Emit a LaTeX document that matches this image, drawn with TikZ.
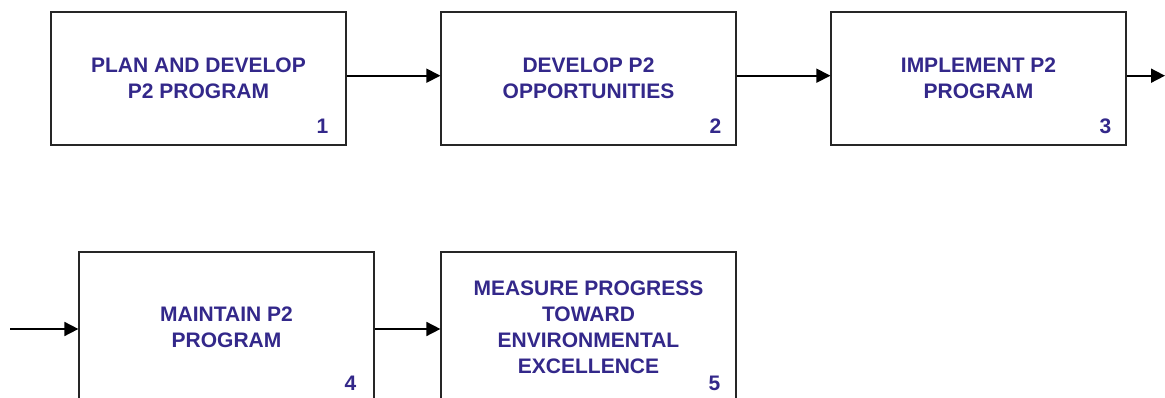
\documentclass[tikz,border=0pt]{standalone}
\usepackage{fontspec}
\setmainfont{Liberation Sans}
\usetikzlibrary{arrows.meta,positioning}
\definecolor{ptwotext}{HTML}{33288A}
\definecolor{ptwoline}{HTML}{262626}

\begin{document}
\begin{tikzpicture}[
  x=1pt, y=1pt,
  font=\fontsize{21}{26}\selectfont\bfseries,
  node distance=93.8pt,
  box/.style={rectangle, draw=ptwoline, line width=1.2pt, fill=white,
    minimum width=295pt, minimum height=133pt, align=center,
    text=ptwotext, inner sep=0pt},
  tall/.style={box, minimum height=150pt},
  num/.style={anchor=base east, text=ptwotext, inner sep=0pt},
  arr/.style={-{Triangle[length=14pt, width=14pt]}, line width=1.7pt, black},
]
  \clip (0,0) rectangle (1165,398);

  \node[box] (plan) at (198.5,319.5) {PLAN AND DEVELOP\\P2 PROGRAM};
  \node[box, right=of plan] (opps) {DEVELOP P2\\OPPORTUNITIES};
  \node[box, right=of opps] (impl) {IMPLEMENT P2\\PROGRAM};
  \node[tall] (maint) at (226.5,71) {MAINTAIN P2\\PROGRAM};
  \node[tall, right=65.8pt of maint] (meas) {MEASURE PROGRESS\\TOWARD\\ENVIRONMENTAL\\EXCELLENCE};

  \node[num] (n1) at ([xshift=-18pt, yshift=12pt]plan.south east) {1};
  \node[num] (n2) at ([xshift=-15pt, yshift=12pt]opps.south east) {2};
  \node[num] (n3) at ([xshift=-15pt, yshift=12pt]impl.south east) {3};
  \node[num] (n4) at ([xshift=-18pt, yshift=12pt]maint.south east) {4};
  \node[num] (n5) at ([xshift=-16pt, yshift=12pt]meas.south east) {5};

  % free ends of the two wrap-around arrows
  \coordinate (cont) at (1165,322.3);
  \coordinate (back) at (10,69);

  \draw[arr] (plan.east |- cont) -- (opps.west |- cont);
  \draw[arr] (opps.east |- cont) -- (impl.west |- cont);
  \draw[arr] (impl.east |- cont) -- (cont);
  \draw[arr] (back) -- (maint.west |- back);
  \draw[arr] (maint.east |- back) -- (meas.west |- back);
\end{tikzpicture}
\end{document}
